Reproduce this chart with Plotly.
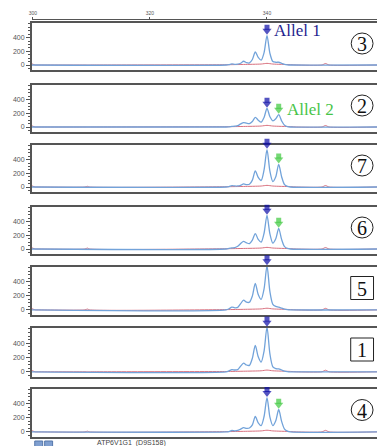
import plotly.graph_objects as go

# ---- data -------------------------------------------------------------
# sample sizes (bp) of the peak region, half-base steps
PEAK_BP = [333.0, 333.5, 334.0, 334.5, 335.0, 335.5, 336.0, 336.5, 337.0, 337.5,
           338.0, 338.5, 339.0, 339.5, 340.0, 340.5, 341.0, 341.5, 342.0, 342.5,
           343.0, 343.5, 344.0]

RFU_3 = [0, 5, 15, 10, 12, 25, 55, 35, 30, 80, 190, 110, 70, 180, 430, 170, 50, 40, 40, 25, 10, 3, 0]
RFU_2 = [0, 3, 8, 12, 20, 45, 65, 55, 50, 80, 140, 100, 70, 140, 270, 150, 90, 120, 180, 90, 25, 5, 0]
RFU_7 = [0, 5, 20, 15, 15, 25, 45, 35, 40, 100, 235, 140, 95, 250, 545, 230, 80, 150, 330, 150, 35, 8, 0]
RFU_6 = [0, 8, 15, 20, 40, 80, 110, 90, 80, 130, 225, 140, 100, 230, 490, 220, 85, 150, 300, 140, 35, 8, 0]
RFU_5 = [0, 15, 40, 30, 35, 90, 140, 110, 110, 200, 380, 220, 150, 300, 630, 260, 80, 50, 40, 25, 10, 3, 0]
RFU_1 = [0, 12, 30, 25, 30, 80, 120, 95, 90, 190, 370, 210, 135, 290, 625, 250, 70, 45, 40, 25, 10, 3, 0]
RFU_4 = [0, 5, 20, 15, 20, 40, 60, 50, 55, 100, 220, 130, 90, 220, 490, 210, 90, 160, 320, 150, 40, 10, 0]

SAMPLES = ["3", "2", "7", "6", "5", "1", "4"]
SAMPLE_RFU = [RFU_3, RFU_2, RFU_7, RFU_6, RFU_5, RFU_1, RFU_4]
HAS_ALLELE2 = [False, True, True, True, False, False, True]
LABEL_BOXED = [False, False, False, False, True, True, False]

ALLELE1_BP = 340.0
ALLELE2_BP = 342.0

# second dye channel (red)
RED_BP = [299.8, 300.4, 301.0, 308.9, 309.3, 309.7, 333.0, 336.0, 339.0, 340.0,
          341.0, 344.0, 345.0, 349.4, 350.0, 350.6, 358.8]
RED_BUMP_309 = [0, 0, 10, 14, 12, 0, 10]
RED_BUMP_350 = 22

SIZE_TICKS = [300, 320, 340]
RFU_TICKS = [0, 200, 400]
X_RANGE = [299.8, 358.8]
Y_RANGE = [-73, 613]

# ---- layout helpers ---------------------------------------------------
W, H = 377, 446
PANEL_TOP = [23, 85, 145, 207, 267, 328, 389]
PANEL_BOTTOM = [70, 132, 192, 254, 315, 377, 437]
LEFT_PX = 29
ARROW_HEADROOM_PX = 16


def fx(px):
    return px / W


def fy(py):
    return 1 - py / H


BLUE = "#72a3da"
RED = "#d8707e"
NAVY = "#0c0ca6"
GREEN = "#3cc83c"
FRAME = "#555555"
UNITS_PER_PX = (Y_RANGE[1] - Y_RANGE[0]) / 47.0

fig = go.Figure()
layout = dict(
    width=W, height=H, margin=dict(l=0, r=0, t=0, b=0),
    paper_bgcolor="white", plot_bgcolor="rgba(0,0,0,0)", showlegend=False,
)
shapes = []
annotations = []

for i, (name, rfu) in enumerate(zip(SAMPLES, SAMPLE_RFU)):
    n = i + 1
    xa, ya = f"x{n}", f"y{n}"
    top, bot = PANEL_TOP[i], PANEL_BOTTOM[i]

    red_rfu = [18, 0, 0, 0, RED_BUMP_309[i], 0, 4, 8, 14, 24, 14, 5, 0,
               0, RED_BUMP_350, 0, 0]
    fig.add_trace(go.Scatter(x=RED_BP, y=red_rfu, mode="lines",
                             line=dict(color=RED, width=1, shape="spline", smoothing=0.6),
                             xaxis=xa, yaxis=ya, hoverinfo="skip"))

    bx = [X_RANGE[0]] + PEAK_BP + [X_RANGE[1]]
    by = [0] + rfu + [0]
    fig.add_trace(go.Scatter(x=bx, y=by, mode="lines",
                             line=dict(color=BLUE, width=1.3, shape="spline", smoothing=0.8),
                             xaxis=xa, yaxis=ya, hoverinfo="skip"))

    # allele call arrows above the peaks, on a same-scale axis with extra headroom
    n2 = n + 10
    calls = [(ALLELE1_BP, NAVY)]
    if HAS_ALLELE2[i]:
        calls.append((ALLELE2_BP, GREEN))
    for bp, col in calls:
        h = rfu[PEAK_BP.index(bp)]
        fig.add_trace(go.Scatter(
            x=[bp, bp],
            y=[h + 4.8 * UNITS_PER_PX, h + 8.3 * UNITS_PER_PX],
            mode="markers",
            marker=dict(symbol=["triangle-down", "square"], size=[8, 5], color=col,
                        line=dict(width=0)),
            xaxis=f"x{n2}", yaxis=f"y{n2}", hoverinfo="skip"))
    layout[f"xaxis{n2}"] = dict(domain=[fx(LEFT_PX), 1], range=X_RANGE, anchor=f"y{n2}",
                                visible=False)
    layout[f"yaxis{n2}"] = dict(
        domain=[fy(bot), fy(top - ARROW_HEADROOM_PX)],
        range=[Y_RANGE[0], Y_RANGE[1] + ARROW_HEADROOM_PX * UNITS_PER_PX],
        anchor=f"x{n2}", visible=False)

    layout[f"xaxis{n}"] = dict(
        domain=[fx(LEFT_PX), 1], range=X_RANGE, anchor=ya,
        showticklabels=False, ticks="", showgrid=False, zeroline=False,
        showline=True, mirror=True, linecolor=FRAME, linewidth=1.5,
    )
    layout[f"yaxis{n}"] = dict(
        domain=[fy(bot), fy(top)], range=Y_RANGE, anchor=xa,
        tickvals=RFU_TICKS, ticks="outside", ticklen=4, tickwidth=1, tickcolor=FRAME,
        tickfont=dict(size=7, color="#555", family="Liberation Sans"),
        minor=dict(tickvals=list(range(-50, 601, 50)), ticks="outside", ticklen=2,
                   tickcolor=FRAME),
        showgrid=False, zeroline=False, showline=True, linecolor=FRAME, linewidth=1.5,
    )

    # sample number marker on the right
    cy = (top + bot) / 2 - 3
    cx = 362
    if LABEL_BOXED[i]:
        shapes.append(dict(type="rect", xref="paper", yref="paper",
                           x0=fx(cx - 11.5), x1=fx(cx + 11.5), y0=fy(cy + 11.5), y1=fy(cy - 11.5),
                           line=dict(color="#222", width=1), fillcolor="white"))
    else:
        shapes.append(dict(type="circle", xref="paper", yref="paper",
                           x0=fx(cx - 11), x1=fx(cx + 11), y0=fy(cy + 10.5), y1=fy(cy - 10.5),
                           line=dict(color="#222", width=1), fillcolor="white"))
    annotations.append(dict(text=name, xref="paper", yref="paper", x=fx(cx), y=fy(cy + 0.5),
                            showarrow=False, xanchor="center", yanchor="middle",
                            font=dict(family="Liberation Serif", size=20, color="#111")))

# size scale along the top
fig.add_trace(go.Scatter(x=X_RANGE, y=[None, None], xaxis="x8", yaxis="y1",
                         mode="lines", hoverinfo="skip"))
layout["xaxis8"] = dict(
    overlaying="x1", anchor="free", position=fy(19), side="top", range=X_RANGE,
    tickvals=SIZE_TICKS, ticks="outside", ticklen=2, tickcolor=FRAME,
    tickfont=dict(size=5, color="#555", family="Liberation Sans"),
    showline=True, linecolor=FRAME, linewidth=1, showgrid=False, zeroline=False,
)

annotations.append(dict(text="Allel 1", xref="paper", yref="paper", x=fx(271), y=fy(31),
                        showarrow=False, xanchor="left", yanchor="middle",
                        font=dict(family="Liberation Serif", size=17, color="#1f1f8f")))
annotations.append(dict(text="Allel 2", xref="paper", yref="paper", x=fx(284), y=fy(109),
                        showarrow=False, xanchor="left", yanchor="middle",
                        font=dict(family="Liberation Serif", size=17, color="#47c447")))
annotations.append(dict(text="ATP6V1G1  (D9S158)", xref="paper", yref="paper", x=fx(93), y=fy(443),
                        showarrow=False, xanchor="left", yanchor="middle",
                        font=dict(family="Liberation Sans", size=7, color="#444")))

for x0 in (32, 42):
    shapes.append(dict(type="rect", xref="paper", yref="paper",
                       x0=fx(x0), x1=fx(x0 + 8), y0=fy(448), y1=fy(441),
                       line=dict(color="#5577aa", width=1), fillcolor="#7f9fd0"))

layout["shapes"] = shapes
layout["annotations"] = annotations
fig.update_layout(**layout)
fig.write_html("out.html")
